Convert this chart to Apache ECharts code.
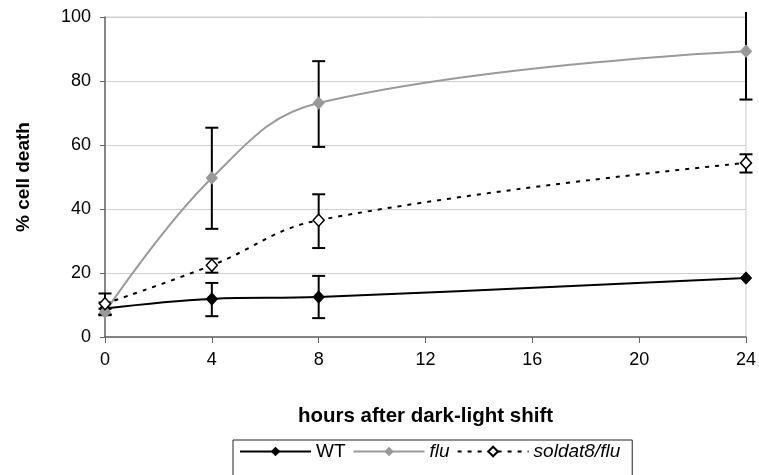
<!DOCTYPE html>
<html>
<head>
<meta charset="utf-8">
<script src="https://cdn.jsdelivr.net/npm/echarts@6/dist/echarts.min.js"></script>
<style>
  html, body { margin: 0; padding: 0; background: #fff; }
  #chart { width: 759px; height: 475px; }
</style>
</head>
<body>
<div id="chart"></div>
<script>
// hours after the shift
const hours = [0, 4, 8, 24]

const wtValues = [8.9, 11.9, 12.5, 18.4]
const wtLow = [7.0, 6.5, 5.9, 18.4]
const wtHigh = [10.8, 16.9, 19.1, 18.4]

const fluValues = [7.8, 49.7, 73.1, 89.3]
const fluLow = [6.8, 33.8, 59.4, 74.2]
const fluHigh = [8.8, 65.4, 86.2, 104.4]

const soldatValues = [10.4, 22.4, 36.5, 54.4]
const soldatLow = [7.0, 20.1, 27.8, 51.4]
const soldatHigh = [13.6, 24.5, 44.6, 57.1]

const xTicks = [0, 4, 8, 12, 16, 20, 24]
const yTicks = [0, 20, 40, 60, 80, 100]

const FONT = 'Liberation Sans, Arial, sans-serif'

function pairs(vals) {
  return hours.map((h, i) => [h, vals[i]])
}

function bars(low, high) {
  return hours.map((h, i) => [h, low[i], high[i]])
}

function renderErrorBar(params, api) {
  const x = api.value(0)
  const lo = api.coord([x, api.value(1)])
  const hi = api.coord([x, api.value(2)])
  const top = params.coordSys.y - 5
  const w = 6.5
  const style = { stroke: '#000', lineWidth: 2 }
  const children = []
  let hiCap = true
  if (hi[1] < top) {
    hi[1] = top
    hiCap = false
  }
  if (Math.abs(lo[1] - hi[1]) < 0.5) {
    return null
  }
  children.push({ type: 'line', shape: { x1: lo[0], y1: lo[1], x2: hi[0], y2: hi[1] }, style: style })
  children.push({ type: 'line', shape: { x1: lo[0] - w, y1: lo[1], x2: lo[0] + w, y2: lo[1] }, style: style })
  if (hiCap) {
    children.push({ type: 'line', shape: { x1: hi[0] - w, y1: hi[1], x2: hi[0] + w, y2: hi[1] }, style: style })
  }
  return { type: 'group', children: children }
}

const chart = echarts.init(document.getElementById('chart'))

const option = {
  animation: false,
  backgroundColor: '#fff',
  textStyle: { fontFamily: FONT },
  grid: {
    left: 105,
    right: 11,
    top: 17,
    bottom: 138,
    show: true,
    borderColor: '#cfcfcf',
    borderWidth: 1
  },
  legend: {
    left: 233,
    top: 440,
    orient: 'horizontal',
    padding: [2, 12, 30, 6],
    borderColor: '#222',
    borderWidth: 1,
    itemWidth: 71,
    itemHeight: 12,
    itemGap: 7,
    data: ['WT', 'flu', 'soldat8/flu'],
    formatter: function (name) {
      if (name === 'WT') return '{n|' + name + '}'
      if (name === 'flu') return '{f|' + name + '}'
      return '{s|' + name + '}'
    },
    textStyle: {
      fontFamily: FONT,
      fontSize: 19,
      color: '#000',
      rich: {
        n: { fontFamily: FONT, fontSize: 19, color: '#000', width: 30 },
        f: { fontStyle: 'italic', fontFamily: FONT, fontSize: 19, color: '#000', width: 25 },
        s: { fontStyle: 'italic', fontFamily: FONT, fontSize: 19, color: '#000', width: 88 }
      }
    }
  },
  xAxis: {
    type: 'value',
    min: 0,
    max: 24,
    interval: 4,
    name: 'hours after dark-light shift',
    nameLocation: 'middle',
    nameGap: 69,
    nameTextStyle: { fontFamily: FONT, fontSize: 20.5, fontWeight: 'bold', color: '#000' },
    axisLine: { onZero: false, lineStyle: { color: '#666', width: 1.5 } },
    axisTick: { show: true, length: 6, lineStyle: { color: '#666', width: 1 } },
    axisLabel: {
      margin: 14,
      fontFamily: FONT,
      fontSize: 18,
      color: '#000',
      customValues: xTicks
    },
    splitLine: { show: false }
  },
  yAxis: {
    type: 'value',
    min: 0,
    max: 100,
    interval: 20,
    name: '% cell death',
    nameLocation: 'middle',
    nameGap: 72,
    nameRotate: 90,
    nameTextStyle: { fontFamily: FONT, fontSize: 19, fontWeight: 'bold', color: '#000' },
    axisLine: { show: true, lineStyle: { color: '#666', width: 1.5 } },
    axisTick: { show: true, length: 5, lineStyle: { color: '#666', width: 1 } },
    axisLabel: {
      margin: 14,
      fontFamily: FONT,
      fontSize: 18,
      color: '#000',
      customValues: yTicks
    },
    splitLine: { show: true, lineStyle: { color: '#cfcfcf', width: 1 } }
  },
  series: [
    {
      type: 'custom',
      name: 'errWT',
      renderItem: renderErrorBar,
      data: bars(wtLow, wtHigh),
      z: 2,
      silent: true
    },
    {
      type: 'custom',
      name: 'errFlu',
      renderItem: renderErrorBar,
      data: bars(fluLow, fluHigh),
      z: 2,
      silent: true
    },
    {
      type: 'custom',
      name: 'errSoldat',
      renderItem: renderErrorBar,
      data: bars(soldatLow, soldatHigh),
      z: 2,
      silent: true
    },
    {
      name: 'WT',
      type: 'line',
      smooth: 0.4,
      data: pairs(wtValues),
      symbol: 'diamond',
      symbolSize: [11, 12],
      lineStyle: { color: '#000', width: 2 },
      itemStyle: { color: '#000', borderColor: '#000' },
      z: 4
    },
    {
      name: 'flu',
      type: 'line',
      smooth: 0.4,
      data: pairs(fluValues),
      symbol: 'diamond',
      symbolSize: [11, 12],
      lineStyle: { color: '#9a9a9a', width: 2 },
      itemStyle: { color: '#999', borderColor: '#999' },
      z: 4
    },
    {
      name: 'soldat8/flu',
      type: 'line',
      smooth: 0.4,
      data: pairs(soldatValues),
      symbol: 'diamond',
      symbolSize: [11, 12],
      lineStyle: { color: '#000', width: 2, type: [4, 6] },
      itemStyle: { color: '#fff', borderColor: '#000', borderWidth: 1.5 },
      z: 5
    }
  ]
}

chart.setOption(option)
</script>
</body>
</html>
